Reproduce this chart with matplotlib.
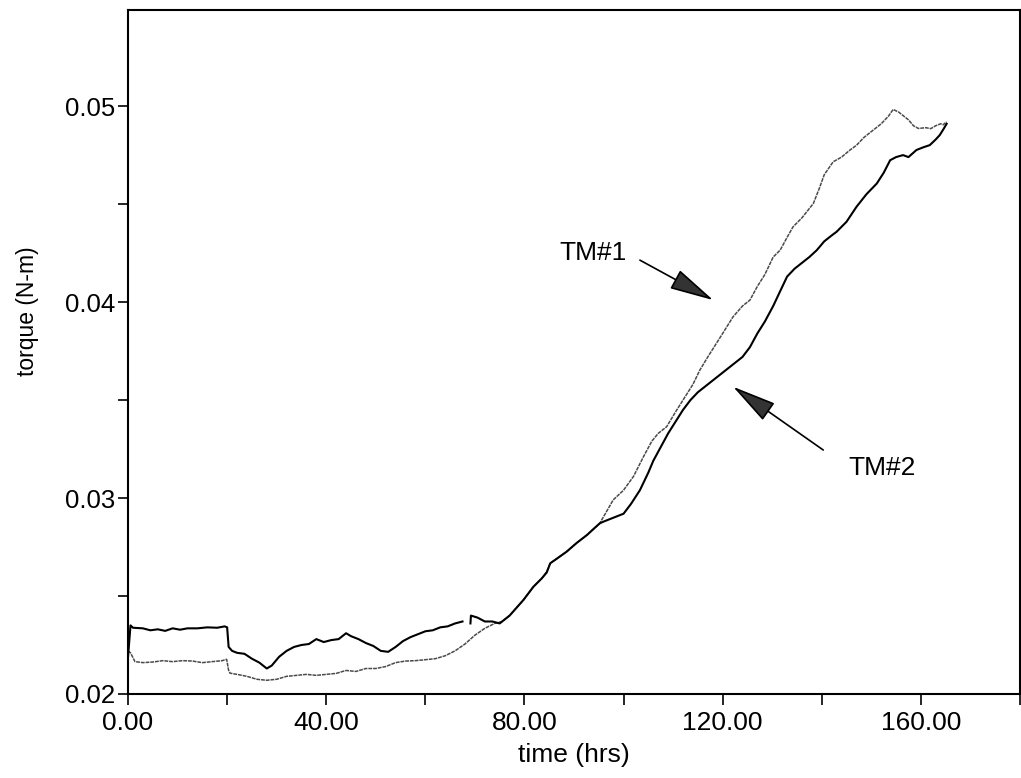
import numpy as np
import matplotlib
matplotlib.use("Agg")
import matplotlib.pyplot as plt
from matplotlib.ticker import MultipleLocator, FuncFormatter

plt.rcParams["font.family"] = ["Liberation Sans", "DejaVu Sans"]

# TM#2 (solid, upper at start)
tm2_t = [0, 0.5, 1, 3, 4.5, 6, 7.5, 9, 10.5, 12, 14, 16, 18, 19.5, 20, 20.3, 21, 22,
         23.5, 25, 26.5, 28, 29, 30.5, 32, 33.5, 35, 36.5, 38, 39.5, 41, 42.5, 44, 45,
         46.5, 48, 49.5, 51, 52.5, 54, 55.5, 57, 58.5, 60, 61.5, 63, 64.5, 66, 67.5,
         68.3, 69.1, 69.2, 70.5, 72, 73.5, 75, 77, 79.8, 81.8, 83.5, 84.5, 85.2, 86.5,
         88.5, 90.5, 92.6, 95.2, 96, 98, 100, 101.5, 103.3, 105, 106, 107.5, 109, 110.5,
         112, 113.5, 115, 116.5, 118, 119.5, 121, 122.5, 124, 125.5, 127, 128.5, 130.2,
         131.5, 133, 134.5, 136, 137.5, 139, 140.5, 142, 143, 145, 147, 149, 151.1,
         152.5, 153.8, 155, 156.4, 157.5, 159.1, 160.5, 161.8, 163, 163.8, 164.5, 165.2]
tm2_v = [0.0219, 0.0235, 0.02338, 0.02335, 0.02325, 0.0233, 0.02322, 0.02335, 0.02328,
         0.02335, 0.02335, 0.0234, 0.02338, 0.02345, 0.0234, 0.0224, 0.0222, 0.0221,
         0.02205, 0.0218, 0.0216, 0.0213, 0.02145, 0.0219, 0.0222, 0.0224, 0.0225,
         0.02255, 0.0228, 0.02265, 0.02275, 0.0228, 0.0231, 0.02295, 0.0228, 0.0226,
         0.02245, 0.0222, 0.02215, 0.0224, 0.0227, 0.0229, 0.02305, 0.0232, 0.02325,
         0.0234, 0.02345, 0.0236, 0.0237, np.nan, 0.0236, 0.0240, 0.0239, 0.0237,
         0.0237, 0.0236, 0.0240, 0.0248, 0.02547, 0.0259, 0.0262, 0.02667, 0.0269,
         0.02726, 0.0277, 0.02811, 0.02871, 0.0288, 0.0290, 0.0292, 0.0297, 0.0304,
         0.0313, 0.0319, 0.0326, 0.0333, 0.0339, 0.0345, 0.0350, 0.0354, 0.0357,
         0.0360, 0.0363, 0.0366, 0.0369, 0.0372, 0.0377, 0.0384, 0.0390, 0.0398,
         0.0405, 0.0413, 0.0417, 0.0420, 0.0423, 0.04265, 0.0431, 0.0434, 0.04359,
         0.0441, 0.04486, 0.0455, 0.04605, 0.0466, 0.04724, 0.0474, 0.0475, 0.0474,
         0.04776, 0.0479, 0.04801, 0.0483, 0.04852, 0.0488, 0.0491]

# TM#1 (lighter, lower at start)
tm1_t = [0, 0.5, 1.4, 3, 5, 7, 9, 11, 13, 15, 17, 19, 19.9, 20.3, 20.6, 22, 24, 26, 28,
         30, 32, 34, 36, 38, 40, 42, 44, 46, 48, 50, 52, 54, 56, 58, 60, 62, 64, 66, 68,
         70, 72, 74, 75.5, 77, 79.8, 81.8, 83.5, 84.5, 85.2, 86.5, 88.5, 90.5, 92.6,
         95.2, 97.9, 100, 102, 104, 105.7, 107, 108.7, 110.5, 112, 114, 115.4, 117,
         118.5, 120, 122.1, 124, 125.5, 127, 128.5, 130.2, 131.6, 133, 134.2, 136,
         138.3, 139.5, 140.5, 142.3, 144, 145.7, 147, 148.5, 150.4, 152, 153.5, 154.4,
         155.5, 156.5, 157.5, 158.5, 159.5, 161, 162, 163, 164, 164.5, 165.2]
tm1_v = [0.0222, 0.0221, 0.02165, 0.0216, 0.02163, 0.0217, 0.02165, 0.0217, 0.02168,
         0.0216, 0.02165, 0.0217, 0.02177, 0.0212, 0.02106, 0.0210, 0.0209, 0.02075,
         0.0207, 0.02075, 0.0209, 0.02095, 0.0210, 0.02095, 0.0210, 0.02105, 0.0212,
         0.02115, 0.0213, 0.0213, 0.0214, 0.0216, 0.02168, 0.0217, 0.02175, 0.0218,
         0.02195, 0.0222, 0.02255, 0.0230, 0.02335, 0.0236, 0.0237, 0.0240, 0.0248,
         0.02547, 0.0259, 0.02625, 0.02667, 0.0269, 0.02726, 0.0277, 0.02811, 0.02871,
         0.0299, 0.0304, 0.0311, 0.0321, 0.0329, 0.0333, 0.03364, 0.0344, 0.0350,
         0.0358, 0.03653, 0.0372, 0.0378, 0.0384, 0.03925, 0.0398, 0.0401, 0.0408,
         0.0414, 0.0423, 0.04265, 0.0433, 0.04384, 0.0443, 0.04503, 0.0458, 0.0465,
         0.04716, 0.0474, 0.04776, 0.0480, 0.0484, 0.04878, 0.0491, 0.0495, 0.04983,
         0.0497, 0.0495, 0.0493, 0.0490, 0.04886, 0.0489, 0.04885, 0.0490, 0.0491,
         0.04905, 0.0492]

fig = plt.figure(figsize=(10.21, 7.78), dpi=100)
ax = fig.add_axes([0.1254, 0.108, 0.8736, 0.879])

ax.plot(tm1_t, tm1_v, color="#4a4a4a", linewidth=1.1, linestyle=(0, (2.5, 0.6)))
ax.plot(tm2_t, tm2_v, color="black", linewidth=1.5)

ax.set_xlim(0, 180)
ax.set_ylim(0.02, 0.0549)

ax.xaxis.set_major_locator(MultipleLocator(20))
ax.yaxis.set_major_locator(MultipleLocator(0.005))
ax.xaxis.set_major_formatter(FuncFormatter(
    lambda v, p: f"{v:.2f}" if round(v) % 40 == 0 and v < 175 else ""))
ax.yaxis.set_major_formatter(FuncFormatter(
    lambda v, p: f"{v:.2f}" if abs(round(v * 1000)) % 10 == 0 else ""))
ax.tick_params(axis="x", direction="out", length=8, width=1.2, labelsize=19, pad=4)
ax.tick_params(axis="y", direction="out", length=7, width=1.2, labelsize=18.5, pad=2)

for s in ax.spines.values():
    s.set_linewidth(1.5)

ax.set_xlabel("time (hrs)", fontsize=19)
ax.xaxis.set_label_coords(0.5, -0.072)
ax.set_ylabel("torque (N-m)", fontsize=16.5)
ax.yaxis.set_label_coords(-0.1, 0.56)

arrow = dict(arrowstyle="-|>,head_length=1.4,head_width=0.33", mutation_scale=20,
             facecolor="#333333", edgecolor="black", linewidth=1.2, shrinkA=0, shrinkB=0)
ax.annotate("", xy=(118.1, 0.0401), xytext=(103.3, 0.04214), arrowprops=arrow)
ax.text(93.8, 0.0425, "TM#1", fontsize=19, ha="center", va="center")
ax.annotate("", xy=(122.1, 0.03568), xytext=(140.3, 0.03245), arrowprops=arrow)
ax.text(152.1, 0.03151, "TM#2", fontsize=19, ha="center", va="center")

fig.savefig("out.png", dpi=100)
